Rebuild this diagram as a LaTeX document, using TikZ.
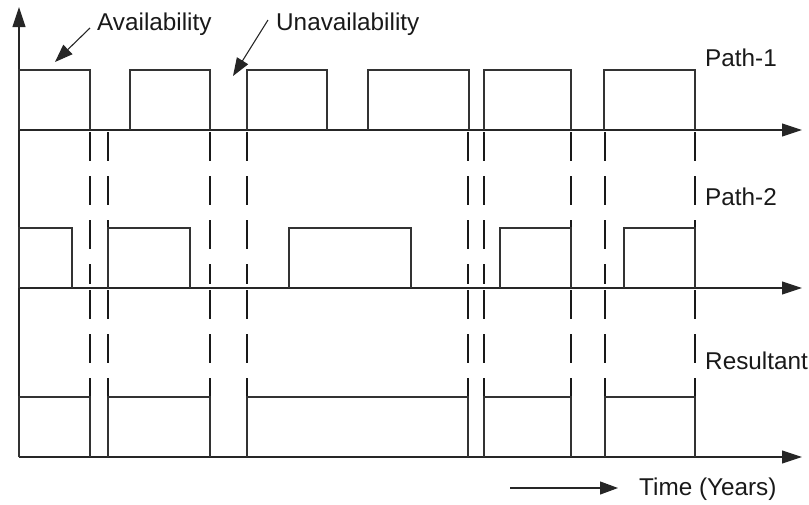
\documentclass[tikz,border=0pt]{standalone}
\usepackage{fontspec}
\setmainfont{Liberation Sans}
\usetikzlibrary{arrows.meta}
\begin{document}
\begin{tikzpicture}[x=1pt,y=-1pt,
  sig/.style={line width=1.1pt,draw=black!80},
  axis/.style={line width=1.1pt,draw=black!85,-{Triangle[length=20pt,width=13pt]}},
  guide/.style={line width=1.7pt,draw=black!90,dash pattern=on 29pt off 15pt},
  pointer/.style={line width=1.1pt,draw=black!85,-{Triangle[length=18pt,width=13pt]}},
  lbl/.style={font=\fontsize{24.3}{29}\selectfont,anchor=base west,inner sep=0pt,text=black!90}]
\useasboundingbox (0,0) rectangle (809,504);
% axes
\coordinate (o) at (19,457);
\coordinate (ytip) at (19,7);
\draw[axis] (o) -- (ytip);
\foreach \y in {130,288,457} \draw[axis] (19,\y) -- (802,\y);
% dashed guides
\foreach \x in {90,108,210,247,468,484,571,605,695} {
  \draw[guide] (\x,132) -- (\x,284);
  \draw[guide] (\x,290) -- (\x,457);
}
% Path-1
\foreach \a/\b in {19/90,130/210,247/327,368/469,484/571,604/695}
  \draw[sig] (\a,130) |- (\b,70) -- (\b,130);
% Path-2
\foreach \a/\b in {19/72,108/190,289/411,500/571,624/695}
  \draw[sig] (\a,288) |- (\b,228) -- (\b,288);
% Resultant
\foreach \a/\b in {19/90,108/210,247/468,484/571,605/695}
  \draw[sig] (\a,457) |- (\b,397) -- (\b,457);
% labels
\node[lbl] (avail) at (97,30) {Availability};
\node[lbl] (unavail) at (276,30) {Unavailability};
\node[lbl] (p1) at (705,66) {Path-1};
\node[lbl] (p2) at (705,205) {Path-2};
\node[lbl] (res) at (705,369) {Resultant};
\node[lbl] (time) at (639,495) {Time (Years)};
\coordinate (a0) at (90,28);
\coordinate (a1) at (55,62);
\coordinate (u0) at (268,20);
\coordinate (u1) at (233,76);
\coordinate (t0) at (510,488);
\coordinate (t1) at (618,488);
\draw[pointer] (a0) -- (a1);
\draw[pointer] (u0) -- (u1);
\draw[pointer] (t0) -- (t1);
\end{tikzpicture}
\end{document}
